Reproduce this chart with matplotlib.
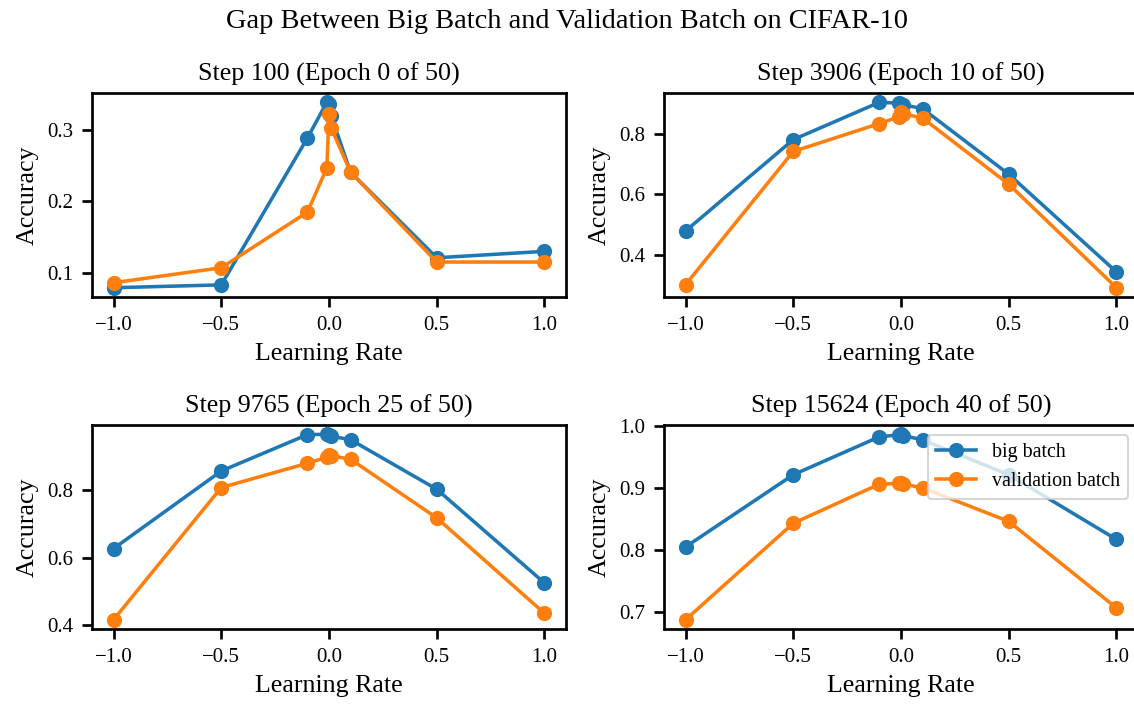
import matplotlib
matplotlib.use('Agg')
from matplotlib import pyplot as plt

# learning rates tried at each checkpoint
learning_rates = [-1.0, -0.5, -0.1, -0.01, 0.0, 0.01, 0.1, 0.5, 1.0]

titles = ['Step 100 (Epoch 0 of 50)', 'Step 3906 (Epoch 10 of 50)',
          'Step 9765 (Epoch 25 of 50)', 'Step 15624 (Epoch 40 of 50)']

big_batch_acc = [
    [0.079, 0.083, 0.289, 0.339, 0.337, 0.320, 0.241, 0.121, 0.130],
    [0.479, 0.780, 0.903, 0.900, 0.898, 0.895, 0.882, 0.666, 0.344],
    [0.627, 0.857, 0.965, 0.966, 0.964, 0.960, 0.950, 0.803, 0.525],
    [0.805, 0.921, 0.982, 0.985, 0.986, 0.984, 0.977, 0.921, 0.817],
]

val_batch_acc = [
    [0.086, 0.107, 0.185, 0.247, 0.322, 0.303, 0.241, 0.115, 0.115],
    [0.302, 0.741, 0.833, 0.855, 0.872, 0.865, 0.851, 0.633, 0.292],
    [0.416, 0.808, 0.880, 0.898, 0.906, 0.902, 0.892, 0.718, 0.435],
    [0.688, 0.843, 0.906, 0.907, 0.908, 0.906, 0.900, 0.846, 0.707],
]

plt.rcParams['font.family'] = ['Liberation Serif', 'DejaVu Serif']
plt.rcParams['axes.linewidth'] = 1.3
plt.rcParams['xtick.major.width'] = 1.3
plt.rcParams['ytick.major.width'] = 1.3
plt.rcParams['xtick.major.size'] = 4.8
plt.rcParams['ytick.major.size'] = 4.8
plt.rcParams['xtick.major.pad'] = 4.3
plt.rcParams['ytick.major.pad'] = 4.3
plt.rcParams['lines.linewidth'] = 1.7
plt.rcParams['lines.markersize'] = 6.3

W, H = 1134, 704
fig = plt.figure(figsize=(W / 150, H / 150), dpi=150)

# axes boxes in pixels: left, top, right, bottom
boxes = [(92, 93, 566, 297), (664, 93, 1138, 297),
         (92, 425, 566, 629), (664, 425, 1138, 629)]

for i in range(4):
    l, t, r, b = boxes[i]
    ax = fig.add_axes([l / W, 1 - b / H, (r - l) / W, (b - t) / H])
    ax.plot(learning_rates, big_batch_acc[i], 'o-', label='big batch')
    ax.plot(learning_rates, val_batch_acc[i], 'o-', label='validation batch')
    ax.set_title(titles[i], fontsize=12.5)
    ax.set_xlabel('Learning Rate', fontsize=12.5)
    ax.set_ylabel('Accuracy', fontsize=12.5)
    ax.tick_params(labelsize=10)
    ax.set_xticks([-1.0, -0.5, 0.0, 0.5, 1.0])
    if i == 3:
        ax.legend(loc='upper right', fontsize=9.6)

fig.suptitle('Gap Between Big Batch and Validation Batch on CIFAR-10',
             fontsize=13.6, y=1 - 22 / H, va='center')

plt.savefig('out.png', dpi=150)
